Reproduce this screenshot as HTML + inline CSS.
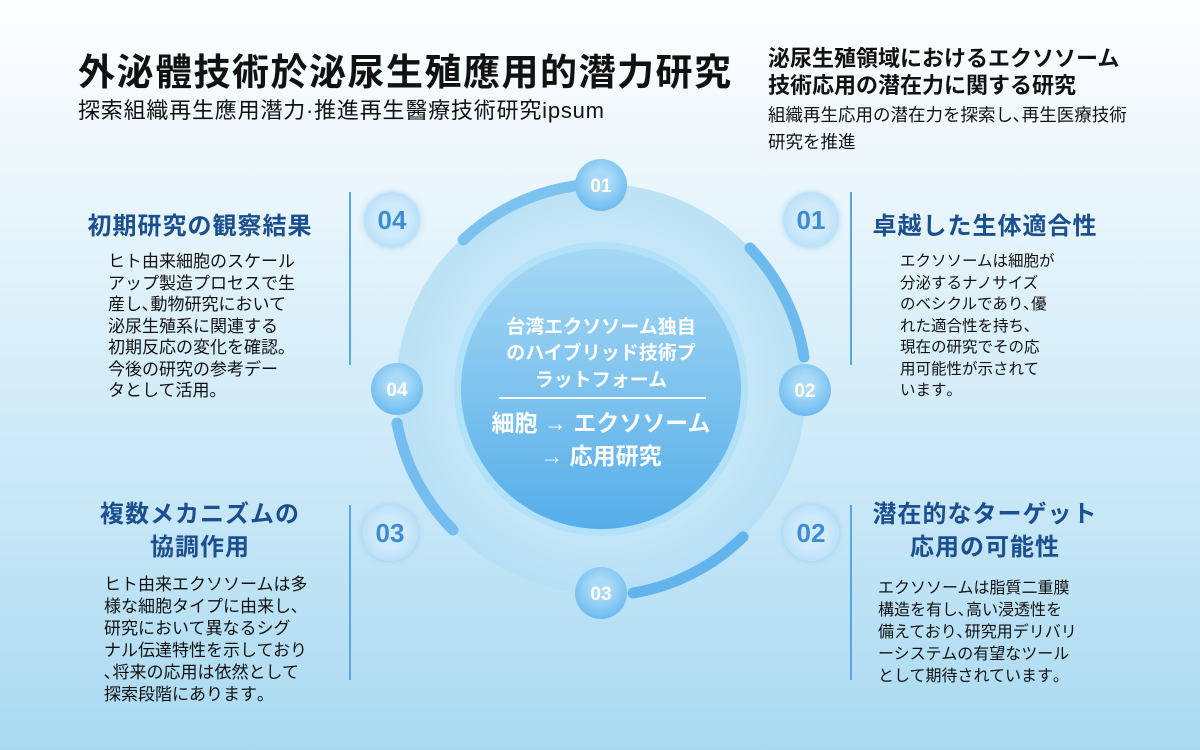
<!DOCTYPE html>
<html><head><meta charset="utf-8"><style>
*{margin:0;padding:0;box-sizing:border-box}
body{width:1200px;height:750px;overflow:hidden;font-family:"Liberation Sans","Noto Sans CJK JP",sans-serif;background:linear-gradient(180deg,#fdfeff 0%,#eaf6fc 25%,#c9e8f7 65%,#a9d9f1 100%);position:relative;color:#111}
.a{position:absolute;white-space:nowrap}
.h{font-weight:bold;color:#1c4f8f;font-size:24px;letter-spacing:1px;text-align:center}
.b{font-size:17px;line-height:21.5px;color:#111}
.vl{position:absolute;width:2px;background:#5aa6e0}
.bd{position:absolute;border-radius:50%;background:radial-gradient(circle,#cfeafb 40%,#a9d8f6 100%);color:#3d8dd0;font-weight:bold;font-size:26px;text-align:center;box-shadow:0 0 6px rgba(120,190,240,.5)}
</style></head><body>
<div class="a" style="left:78px;top:42px;font-size:37px;font-weight:bold;letter-spacing:1.5px">外泌體技術於泌尿生殖應用的潛力研究</div>
<div class="a" style="left:78px;top:93px;font-size:22px;letter-spacing:0.8px">探索組織再生應用潛力·推進再生醫療技術研究ipsum</div>
<div class="a" style="left:768px;top:45px;font-size:22px;font-weight:bold;line-height:27px">泌尿生殖領域におけるエクソソーム<br>技術応用の潜在力に関する研究</div>
<div class="a" style="left:768px;top:102px;font-size:17.5px;line-height:27px">組織再生応用の潜在力を探索し､再生医療技術<br>研究を推進</div>

<div class="vl" style="left:349px;top:192px;height:173px"></div>
<div class="vl" style="left:349px;top:505px;height:175px"></div>
<div class="vl" style="left:850px;top:192px;height:173px"></div>
<div class="vl" style="left:850px;top:505px;height:175px"></div>

<div class="bd" style="left:364px;top:192px;width:56px;height:56px;line-height:56px">04</div>
<div class="bd" style="left:362px;top:505px;width:56px;height:56px;line-height:56px">03</div>
<div class="bd" style="left:783px;top:192px;width:56px;height:56px;line-height:56px">01</div>
<div class="bd" style="left:783px;top:505px;width:56px;height:56px;line-height:56px">02</div>

<div class="a h" style="left:60px;top:206px;width:280px">初期研究の観察結果</div>
<div class="a b" style="left:108px;top:251px;font-size:17px">ヒト由来細胞のスケール<br>アップ製造プロセスで生<br>産し､動物研究において<br>泌尿生殖系に関連する<br>初期反応の変化を確認｡<br>今後の研究の参考デー<br>タとして活用｡</div>
<div class="a h" style="left:60px;top:498px;width:280px;line-height:33px">複数メカニズムの<br>協調作用</div>
<div class="a b" style="left:104px;top:574px;font-size:17px;line-height:22px">ヒト由来エクソソームは多<br>様な細胞タイプに由来し､<br>研究において異なるシグ<br>ナル伝達特性を示しており<br>､将来の応用は依然として<br>探索段階にあります｡</div>
<div class="a h" style="left:860px;top:206px;width:250px">卓越した生体適合性</div>
<div class="a b" style="left:900px;top:251px;font-size:15.5px">エクソソームは細胞が<br>分泌するナノサイズ<br>のベシクルであり､優<br>れた適合性を持ち､<br>現在の研究でその応<br>用可能性が示されて<br>います｡</div>
<div class="a h" style="left:860px;top:498px;width:250px;line-height:33px">潜在的なターゲット<br>応用の可能性</div>
<div class="a b" style="left:878px;top:578px;font-size:16px;line-height:22px">エクソソームは脂質二重膜<br>構造を有し､高い浸透性を<br>備えており､研究用デリバリ<br>ーシステムの有望なツール<br>として期待されています｡</div>

<svg class="a" style="left:0;top:0" width="1200" height="750">
<defs>
<radialGradient id="dk" cx="50%" cy="50%" r="50%"><stop offset="0.7" stop-color="#c4e6f8"/><stop offset="1" stop-color="#b6dff5"/></radialGradient>
<linearGradient id="in" x1="0" y1="0" x2="0" y2="1"><stop offset="0" stop-color="#a6d8f4"/><stop offset="1" stop-color="#56aee9"/></linearGradient>
<radialGradient id="bg2" cx="50%" cy="40%" r="60%"><stop offset="0.3" stop-color="#a9dbf7"/><stop offset="1" stop-color="#6bbaf0"/></radialGradient>
</defs>
<circle cx="601" cy="389" r="205" fill="url(#dk)" opacity="0.9"/>
<circle cx="601" cy="389" r="147" fill="#b2e1fa"/>
<circle cx="601" cy="389" r="140" fill="url(#in)"/>
<g fill="none" stroke-width="11" stroke-linecap="round">
<path d="M 582 185 A 205 205 0 0 0 463 240" stroke="#7cc2ef"/>
<path d="M 750 248 A 205 205 0 0 1 804 357" stroke="#6cbaee"/>
<path d="M 397 423 A 205 205 0 0 0 453 530" stroke="#74bdee"/>
<path d="M 633 593 A 205 205 0 0 0 743 537" stroke="#62b4ec"/>
</g>
<g font-family="Liberation Sans" font-weight="bold" font-size="19" fill="#fff" text-anchor="middle">
<circle cx="601" cy="185" r="26" fill="url(#bg2)"/><text x="601" y="192">01</text>
<circle cx="805" cy="390" r="26" fill="url(#bg2)"/><text x="805" y="397">02</text>
<circle cx="601" cy="593" r="26" fill="url(#bg2)"/><text x="601" y="600">03</text>
<circle cx="397" cy="389" r="26" fill="url(#bg2)"/><text x="397" y="396">04</text>
</g>
<g font-family="Liberation Sans,Noto Sans CJK JP,sans-serif" fill="#fff" text-anchor="middle" font-weight="bold">
<text x="601" y="333" font-size="19">台湾エクソソーム独自</text>
<text x="601" y="359" font-size="19">のハイブリッド技術プ</text>
<text x="601" y="386" font-size="19">ラットフォーム</text>
<rect x="499" y="397" width="207" height="2"/>
<text x="601" y="431" font-size="23">細胞 → エクソソーム</text>
<text x="601" y="464" font-size="23">→ 応用研究</text>
</g>
</svg>
</body></html>
